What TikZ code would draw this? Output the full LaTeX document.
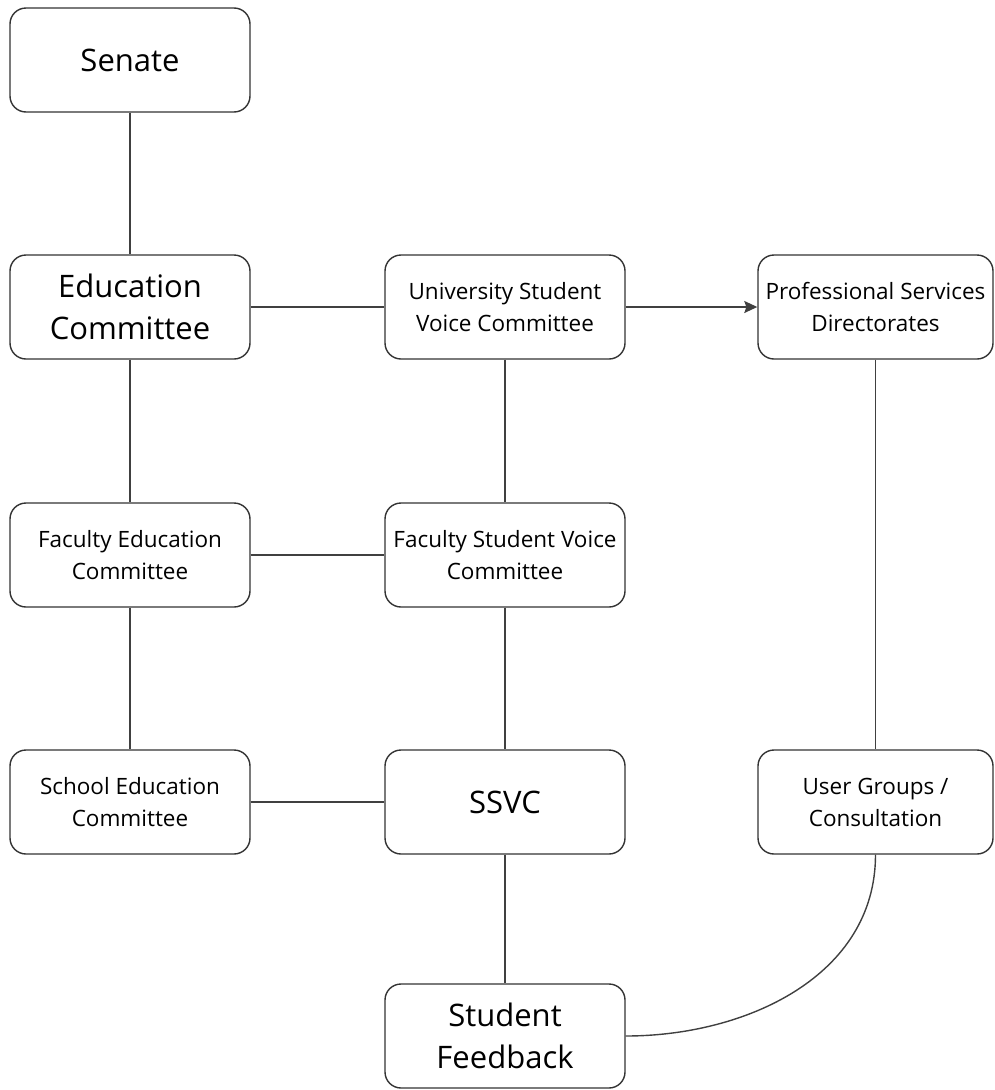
\documentclass[tikz,border=0pt]{standalone}
\usepackage{fontspec}
\setmainfont{Open Sans}
\usetikzlibrary{arrows.meta}
\begin{document}
\begin{tikzpicture}[x=1pt,y=-1pt]
				\tikzstyle{Box} = [rectangle, rounded corners=16, draw=black!80, line width=1.4, minimum width=240, minimum height=104, inner sep=0pt, align=center, font=\fontsize{22.5}{32}\selectfont]
				\tikzstyle{Big} = [font=\fontsize{31}{42}\selectfont]
				\tikzstyle{Link} = [draw=black!75, line width=1.4]
				\useasboundingbox (0,0) rectangle (994,1090);
				\node (senate) at (130,60) [Box, Big, fill=white] {Senate};
				\node (edc) at (130,307) [Box, Big, fill=white] {Education\\Committee};
				\node (usvc) at (505,307) [Box, fill=white] {University Student\\Voice Committee};
				\node (psd) at (875.5,307) [Box, minimum width=235, fill=white] {Professional Services\\Directorates};
				\node (fec) at (130,555) [Box, fill=white] {Faculty Education\\Committee};
				\node (fsvc) at (505,555) [Box, fill=white] {Faculty Student Voice\\Committee};
				\node (sec) at (130,802) [Box, fill=white] {School Education\\Committee};
				\node (ssvc) at (505,802) [Box, Big, fill=white] {SSVC};
				\node (ug) at (875.5,802) [Box, minimum width=235, fill=white] {User Groups /\\Consultation};
				\node (sf) at (505,1036) [Box, Big, fill=white] {Student\\Feedback};
				\draw [Link] (senate) to (edc);
				\draw [Link] (edc) to (fec);
				\draw [Link] (fec) to (sec);
				\draw [Link] (edc) to (usvc);
				\draw [Link, -{Stealth[length=13pt,width=12pt,inset=2pt]}] (usvc) to (psd);
				\draw [Link] (fec) to (fsvc);
				\draw [Link] (sec) to (ssvc);
				\draw [Link] (usvc) to (fsvc);
				\draw [Link] (fsvc) to (ssvc);
				\draw [Link] (ssvc) to (sf);
				\draw [Link] (psd) to (ug);
				\draw [Link] (sf.east) to [out=0, in=-90] (ug.south);
			\end{tikzpicture}
\end{document}
